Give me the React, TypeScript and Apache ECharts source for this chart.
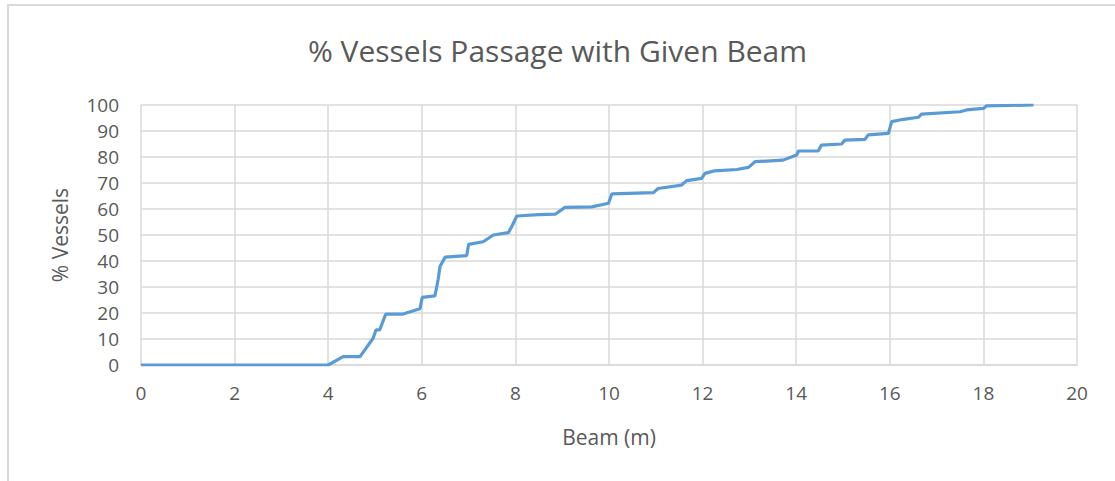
import React, { useEffect, useRef } from "react";
import * as echarts from "echarts";

const titleText = "% Vessels Passage with Given Beam";
const xAxisTitle = "Beam (m)";
const yAxisTitle = "% Vessels";

const beam = [
  0, 4.0, 4.32, 4.68, 4.96, 5.02, 5.1, 5.23, 5.6, 5.96,
  6.01, 6.28, 6.35, 6.39, 6.5, 6.96, 7.0, 7.31, 7.53, 7.85,
  7.92, 8.03, 8.5, 8.85, 9.06, 9.63, 9.99, 10.06, 10.95, 11.05,
  11.55, 11.66, 11.98, 12.05, 12.26, 12.73, 12.98, 13.12, 13.72, 14.01,
  14.05, 14.47, 14.54, 14.97, 15.04, 15.47, 15.54, 15.97, 16.04, 16.29,
  16.61, 16.68, 17.5, 17.64, 18.0, 18.07, 19.07,
];
const pctVessels = [
  0, 0, 3.2, 3.2, 10.3, 13.5, 13.5, 19.6, 19.6, 21.6,
  26, 26.6, 33, 38, 41.5, 42.1, 46.4, 47.4, 50, 50.9,
  53.2, 57.3, 57.8, 58, 60.6, 60.8, 62.2, 65.8, 66.3, 67.9,
  69.2, 70.9, 71.8, 73.7, 74.7, 75.2, 76, 78.2, 78.8, 80.8,
  82.3, 82.3, 84.6, 85, 86.5, 86.8, 88.5, 89.1, 93.6, 94.5,
  95.3, 96.5, 97.4, 98.1, 98.7, 99.7, 100,
];

const FONT = "'Open Sans', sans-serif";
const TEXT = "#595959";
const GRID = "#d9d9d9";

export default function App() {
  const ref = useRef<HTMLDivElement>(null);
  useEffect(() => {
    if (!ref.current) return;
    const chart = echarts.init(ref.current, undefined, { renderer: "svg" });
    const data = beam.map((b, i) => [b, pctVessels[i]]);
    chart.setOption({
      animation: false,
      backgroundColor: "#ffffff",
      title: {
        text: titleText,
        left: "center",
        top: 30,
        textStyle: { fontFamily: FONT, fontSize: 30, fontWeight: 400, color: TEXT },
      },
      graphic: [
        {
          type: "rect",
          shape: { x: 8, y: 5, width: 1300, height: 700 },
          style: { fill: "none", stroke: "#d9d9d9", lineWidth: 2 },
          silent: true,
        },
      ],
      grid: { left: 141, right: 38, top: 105, bottom: 116 },
      xAxis: {
        type: "value",
        min: 0,
        max: 20,
        interval: 2,
        name: xAxisTitle,
        nameLocation: "middle",
        nameGap: 61,
        nameTextStyle: { fontFamily: FONT, fontSize: 21, color: TEXT },
        axisLine: { show: true, lineStyle: { color: GRID, width: 1.5 } },
        axisTick: { show: false },
        axisLabel: { fontFamily: FONT, fontSize: 19, color: TEXT, margin: 18 },
        splitLine: { show: true, lineStyle: { color: GRID, width: 1.5 } },
      },
      yAxis: {
        type: "value",
        min: 0,
        max: 100,
        interval: 10,
        name: yAxisTitle,
        nameLocation: "middle",
        nameGap: 71,
        nameTextStyle: { fontFamily: FONT, fontSize: 21, color: TEXT },
        axisLine: { show: false },
        axisTick: { show: false },
        axisLabel: { fontFamily: FONT, fontSize: 19, color: TEXT, margin: 22 },
        splitLine: { show: true, lineStyle: { color: GRID, width: 1.5 } },
      },
      series: [
        {
          type: "line",
          data,
          showSymbol: false,
          lineStyle: { color: "#5B9BD5", width: 3.2 },
          itemStyle: { color: "#5B9BD5" },
        },
      ],
    });
    return () => chart.dispose();
  }, []);
  return (
    <div
      ref={ref}
      style={{ position: "fixed", left: 0, top: 0, width: 1115, height: 481 }}
    />
  );
}
